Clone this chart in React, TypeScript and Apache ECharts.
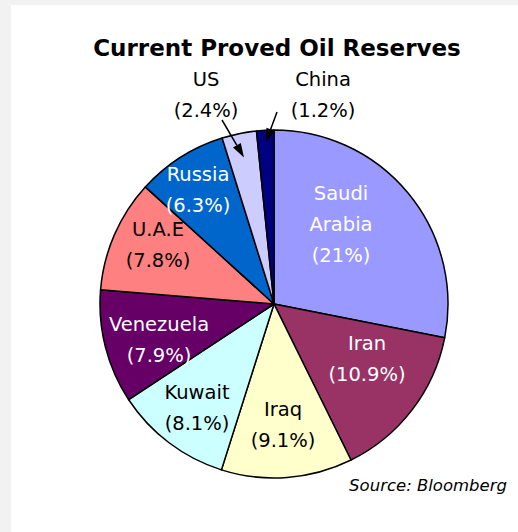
import React, { useEffect, useRef } from "react";
import * as echarts from "echarts";

// ---- data ----
const countries = ["Saudi\nArabia", "Iran", "Iraq", "Kuwait", "Venezuela", "U.A.E", "Russia", "US", "China"];
const shares = [21, 10.9, 9.1, 8.1, 7.9, 7.8, 6.3, 2.4, 1.2];
const sliceColors = ["#9999ff", "#993366", "#ffffcc", "#ccffff", "#660066", "#ff8080", "#0066cc", "#ccccff", "#000080"];
const labelColors = ["#ffffff", "#ffffff", "#000000", "#000000", "#ffffff", "#000000", "#ffffff", "#000000", "#000000"];
const chartTitle = "Current Proved Oil Reserves";
const sourceNote = "Source: Bloomberg";

// ---- layout (styling only) ----
const CX = 274;
const CY = 304;
const R = 174;
const labelCentres: number[][] = [
  [341, 224], [367, 359], [283, 425], [197, 408], [159, 340], [158, 245], [198, 190], [206, 95], [323, 95],
];
// arrows for the small slices: index -> [tailX, tailY, tipRadiusFraction]
const arrowSpecs: { idx: number; tail: number[]; frac: number }[] = [
  { idx: 7, tail: [222, 120], frac: 0.86 },
  { idx: 8, tail: [277, 112], frac: 0.93 },
];

function buildArrows() {
  const total = shares.reduce((a, b) => a + b, 0);
  const els: any[] = [];
  arrowSpecs.forEach(({ idx, tail, frac }) => {
    let before = 0;
    for (let i = 0; i < idx; i++) before += shares[i];
    const midDeg = ((before + shares[idx] / 2) / total) * 360; // clockwise from 12 o'clock
    const a = (midDeg * Math.PI) / 180;
    const tip = [CX + R * frac * Math.sin(a), CY - R * frac * Math.cos(a)];
    const dx = tip[0] - tail[0];
    const dy = tip[1] - tail[1];
    const len = Math.sqrt(dx * dx + dy * dy);
    const ux = dx / len;
    const uy = dy / len;
    const L = 14;
    const W = 4.5;
    const bx = tip[0] - ux * L;
    const by = tip[1] - uy * L;
    els.push({
      type: "line",
      z: 20,
      silent: true,
      shape: { x1: tail[0], y1: tail[1], x2: bx, y2: by },
      style: { stroke: "#000", lineWidth: 1.5 },
    });
    els.push({
      type: "polygon",
      z: 20,
      silent: true,
      shape: {
        points: [
          [tip[0], tip[1]],
          [bx - uy * W, by + ux * W],
          [bx + uy * W, by - ux * W],
        ],
      },
      style: { fill: "#000" },
    });
  });
  return els;
}

export default function App() {
  const ref = useRef<HTMLDivElement>(null);
  useEffect(() => {
    if (!ref.current) return;
    const chart = echarts.init(ref.current, undefined, { renderer: "svg" });
    chart.setOption({
      animation: false,
      backgroundColor: "#f2f2f2",
      graphic: [
        { type: "rect", z: -1, silent: true, shape: { x: 11, y: 5, width: 507, height: 527 }, style: { fill: "#ffffff" } },
        {
          type: "text",
          z: 20,
          silent: true,
          x: 277,
          y: 48,
          style: {
            text: chartTitle,
            font: "bold 23px 'DejaVu Sans'",
            fill: "#000",
            textAlign: "center",
            textVerticalAlign: "middle",
          },
        },
        {
          type: "text",
          z: 20,
          silent: true,
          x: 507,
          y: 485,
          style: {
            text: sourceNote,
            font: "italic 16.5px 'DejaVu Sans'",
            fill: "#000",
            textAlign: "right",
            textVerticalAlign: "middle",
          },
        },
        ...buildArrows(),
      ],
      series: [
        {
          type: "pie",
          center: [CX, CY],
          radius: R,
          startAngle: 90,
          clockwise: true,
          silent: true,
          avoidLabelOverlap: false,
          minShowLabelAngle: 0,
          emphasis: { disabled: true },
          itemStyle: { borderColor: "#000", borderWidth: 1.5 },
          label: {
            show: true,
            position: "inside",
            formatter: (p: any) => `${p.name}\n(${p.value}%)`,
            fontFamily: "DejaVu Sans",
            fontSize: 19.5,
            lineHeight: 31,
            align: "center",
          },
          labelLine: { show: false },
          labelLayout: (p: any) => ({
            x: labelCentres[p.dataIndex][0],
            y: labelCentres[p.dataIndex][1],
            align: "center",
            verticalAlign: "middle",
          }),
          data: shares.map((v, i) => ({
            name: countries[i],
            value: v,
            itemStyle: { color: sliceColors[i] },
            label: { color: labelColors[i] },
          })),
        },
      ],
    });
    return () => chart.dispose();
  }, []);
  return <div ref={ref} style={{ position: "absolute", left: 0, top: 0, width: 518, height: 532 }} />;
}
